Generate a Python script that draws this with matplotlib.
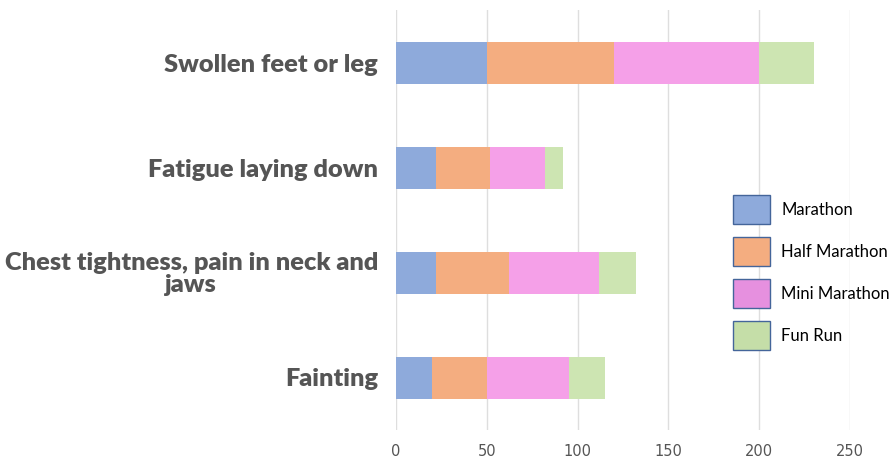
import numpy as np
import matplotlib
matplotlib.use("Agg")
import matplotlib.pyplot as plt

# Data
symptoms = ["Swollen feet or leg", "Fatigue laying down",
            "Chest tightness, pain in neck and\njaws", "Fainting"]
series_names = ["Marathon", "Half Marathon", "Mini Marathon", "Fun Run"]
marathon = [50, 22, 22, 20]
half_marathon = [70, 30, 40, 30]
mini_marathon = [80, 30, 50, 45]
fun_run = [30, 10, 20, 20]
x_ticks = [0, 50, 100, 150, 200, 250]

colors = ["#8eaadb", "#f4ad80", "#f5a0e8", "#cde5b2"]
legend_colors = ["#8eaadb", "#f4ad80", "#e690df", "#c5dea8"]

fig = plt.figure(figsize=(8.96, 4.59), dpi=100)
ax = fig.add_axes([396 / 896, 1 - 430 / 459, (850 - 396) / 896, 420 / 459])

y = np.arange(len(symptoms))
left = np.zeros(len(symptoms))
for vals, c in zip([marathon, half_marathon, mini_marathon, fun_run], colors):
    ax.barh(y, vals, left=left, height=0.4, color=c, zorder=2)
    left += np.array(vals)

handles = [plt.Rectangle((0, 0), 1, 1, facecolor=c, edgecolor="#44659a", linewidth=1)
           for c in legend_colors]

ax.set_ylim(3.5, -0.5)
ax.set_xlim(0, 250)
ax.set_xticks(x_ticks)
ax.set_yticks(y)
ax.set_yticklabels(symptoms, fontsize=18.3, fontweight="heavy", color="#555555",
                   family="Lato", multialignment="center", linespacing=0.95)
ax.tick_params(axis="y", length=0, pad=13)
ax.tick_params(axis="x", length=0, pad=10, labelsize=10.5, labelcolor="#555555")
ax.grid(axis="x", color="#dedede", linewidth=1, zorder=0)
for s in ax.spines.values():
    s.set_visible(False)

fig.legend(handles, series_names, loc="upper left",
           bbox_to_anchor=(733 / 896, 1 - 195 / 459), frameon=False,
           handlelength=2.2, handleheight=2.3, labelspacing=0.78,
           handletextpad=0.7, borderpad=0, borderaxespad=0,
           prop={"family": "Lato", "size": 12})

fig.savefig("out.png", dpi=100)
